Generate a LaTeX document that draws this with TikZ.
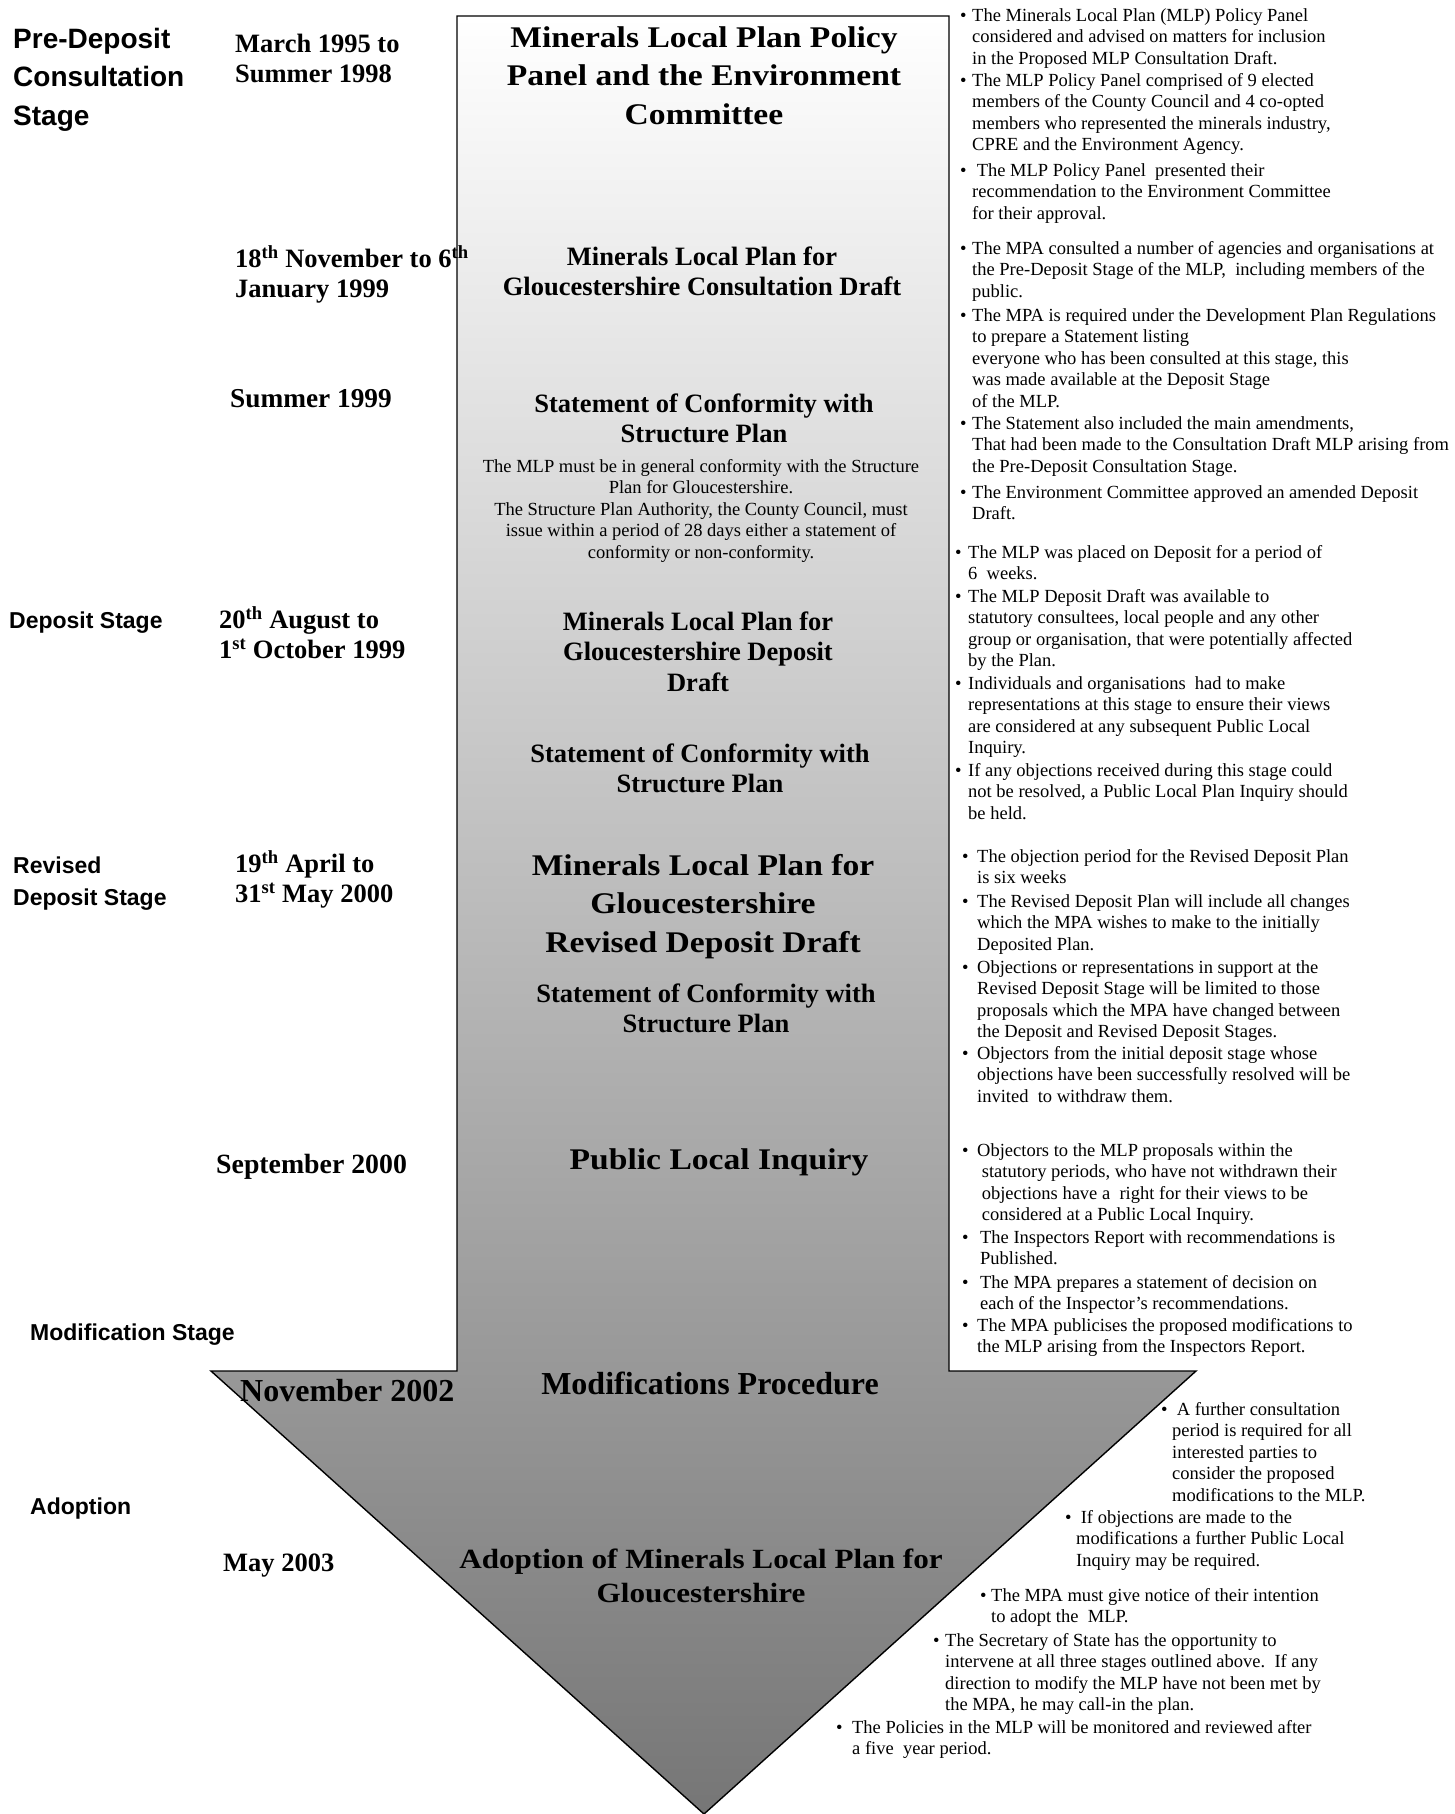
\documentclass[tikz,border=0pt]{standalone}
\usepackage{fontspec}
\setmainfont{Liberation Serif}
\newfontfamily\sansfont{Liberation Sans}
\newfontfamily\palfont[FakeStretch=1.12]{Liberation Serif}
\definecolor{arrowbot}{RGB}{118,118,118}
\newcommand\bitem[2]{\makebox[#1][l]{\textbullet}\begin{tabular}[t]{@{}l@{}}#2\end{tabular}}
\newcommand\clines[1]{\begin{tabular}[t]{@{}c@{}}#1\end{tabular}}
\newcommand\llines[1]{\begin{tabular}[t]{@{}l@{}}#1\end{tabular}}
\newcommand\thsup{\textsuperscript{th}}
\tikzset{
 stg/.style={anchor=base west, inner sep=0pt, font=\sansfont\bfseries\fontsize{28bp}{38.5bp}\selectfont},
 stgs/.style={anchor=base west, inner sep=0pt, font=\sansfont\bfseries\fontsize{23bp}{32bp}\selectfont},
 dte/.style={anchor=base west, inner sep=0pt, font=\bfseries\fontsize{26.5bp}{30bp}\selectfont},
 ttl/.style={anchor=base, inner sep=0pt, font=\bfseries\fontsize{26.5bp}{30.5bp}\selectfont},
 big/.style={anchor=base, inner sep=0pt, font=\palfont\bfseries\fontsize{30bp}{38.5bp}\selectfont},
 nte/.style={anchor=base, inner sep=0pt, font=\fontsize{18.5bp}{21.5bp}\selectfont},
 bul/.style={anchor=base west, inner sep=0pt, font=\fontsize{18.5bp}{21.5bp}\selectfont},
 arrowshape/.style={top color=white, bottom color=arrowbot, draw=black, line width=1.4bp, line join=miter}
}
\begin{document}
\begin{tikzpicture}[x=1bp,y=-1bp]
\path[use as bounding box, fill=white] (0,0) rectangle (1455,1814);
% the big arrow
\shadedraw[arrowshape] (457,16) -- (949,16) -- (949,1371) -- (1196,1371) -- (704,1814)
  -- (211,1371) -- (457,1371) -- cycle;

% stage labels
\node[stg] (s1) at (13,48) {\llines{Pre-Deposit\\Consultation\\Stage}};
\node[stgs] (s2) at (9,628) {Deposit Stage};
\node[stgs] (s3) at (13,873) {\llines{Revised\\Deposit Stage}};
\node[stgs] (s4) at (30,1340) {Modification Stage};
\node[stgs] (s5) at (30,1514) {Adoption};

% dates
\node[dte] (d1) at (235,52) {\llines{March 1995 to\\Summer 1998}};
\node[dte] (d2) at (235,267) {\llines{18\thsup{} November to 6\thsup\\January 1999}};
\node[dte, font=\bfseries\fontsize{27.3bp}{30bp}\selectfont] (d3) at (230,407) {Summer 1999};
\node[dte] (d4) at (219,628) {\llines{20\thsup{} August to\\1\textsuperscript{st} October 1999}};
\node[dte] (d5) at (235,872) {\llines{19\thsup{} April to\\31\textsuperscript{st} May 2000}};
\node[dte, font=\bfseries\fontsize{27.8bp}{30bp}\selectfont] (d6) at (216,1173) {September 2000};
\node[dte, font=\bfseries\fontsize{32bp}{36bp}\selectfont] (d7) at (240,1401) {November 2002};
\node[dte] (d8) at (223,1571) {May 2003};

% centre titles
\node[big] (t1) at (704,47) {\clines{Minerals Local Plan Policy\\Panel and the Environment\\Committee}};
\node[ttl] (t2) at (702,265) {\clines{Minerals Local Plan for\\Gloucestershire Consultation Draft}};
\node[ttl] (t3) at (704,412) {\clines{Statement of Conformity with\\Structure Plan}};
\node[nte] (n3) at (701,472) {\clines{The MLP must be in general conformity with the Structure\\Plan for Gloucestershire.\\The Structure Plan Authority, the County Council, must\\issue within a period of 28 days either a statement of\\conformity or non-conformity.}};
\node[ttl] (t4) at (698,630) {\clines{Minerals Local Plan for\\Gloucestershire Deposit\\Draft}};
\node[ttl] (t5) at (700,762) {\clines{Statement of Conformity with\\Structure Plan}};
\node[big] (t6) at (703,875) {\clines{Minerals Local Plan for\\Gloucestershire\\Revised Deposit Draft}};
\node[ttl] (t7) at (706,1002) {\clines{Statement of Conformity with\\Structure Plan}};
\node[big] (t8) at (719,1169) {Public Local Inquiry};
\node[ttl, font=\bfseries\fontsize{32bp}{36bp}\selectfont] (t9) at (710,1394) {Modifications Procedure};
\node[big, font=\palfont\bfseries\fontsize{27.8bp}{34.5bp}\selectfont] (t10) at (701,1568) {\clines{Adoption of Minerals Local Plan for\\Gloucestershire}};

% bullet notes
\node[bul] (b1) at (960,21) {\bitem{12bp}{The Minerals Local Plan (MLP) Policy Panel\\considered and advised on matters for inclusion\\in the Proposed MLP Consultation Draft.}};
\node[bul] (b2) at (960,86) {\bitem{12bp}{The MLP Policy Panel comprised of 9 elected\\members of the County Council and 4 co-opted\\members who represented the minerals industry,\\CPRE and the Environment Agency.}};
\node[bul] (b3) at (960,176) {\bitem{12bp}{\ The MLP Policy Panel\ \ presented their\\recommendation to the Environment Committee\\for their approval.}};
\node[bul] (b4) at (960,254) {\bitem{12bp}{The MPA consulted a number of agencies and organisations at\\the Pre-Deposit Stage of the MLP,\ \ including members of the\\public.}};
\node[bul] (b5) at (960,321) {\bitem{12bp}{The MPA is required under the Development Plan Regulations\\to prepare a Statement listing\\everyone who has been consulted at this stage, this\\was made available at the Deposit Stage\\of the MLP.}};
\node[bul] (b6) at (960,429) {\bitem{12bp}{The Statement also included the main amendments,\\That had been made to the Consultation Draft MLP arising from\\the Pre-Deposit Consultation Stage.}};
\node[bul] (b7) at (960,498) {\bitem{12bp}{The Environment Committee approved an amended Deposit\\Draft.}};

\node[bul] (b8) at (955,558) {\bitem{13bp}{The MLP was placed on Deposit for a period of\\6\ \ weeks.}};
\node[bul] (b9) at (955,602) {\bitem{13bp}{The MLP Deposit Draft was available to\\statutory consultees, local people and any other\\group or organisation, that were potentially affected\\by the Plan.}};
\node[bul] (b10) at (955,689) {\bitem{13bp}{Individuals and organisations\ \ had to make\\representations at this stage to ensure their views\\are considered at any subsequent Public Local\\Inquiry.}};
\node[bul] (b11) at (955,776) {\bitem{13bp}{If any objections received during this stage could\\not be resolved, a Public Local Plan Inquiry should\\be held.}};

\node[bul] (b12) at (962,862) {\bitem{15bp}{The objection period for the Revised Deposit Plan\\is six weeks}};
\node[bul] (b13) at (962,907) {\bitem{15bp}{The Revised Deposit Plan will include all changes\\which the MPA wishes to make to the initially\\Deposited Plan.}};
\node[bul] (b14) at (962,973) {\bitem{15bp}{Objections or representations in support at the\\Revised Deposit Stage will be limited to those\\proposals which the MPA have changed between\\the Deposit and Revised Deposit Stages.}};
\node[bul] (b15) at (962,1059) {\bitem{15bp}{Objectors from the initial deposit stage whose\\objections have been successfully resolved will be\\invited\ \ to withdraw them.}};

\node[bul] (b16) at (962,1156) {\bitem{15bp}{Objectors to the MLP proposals within the\\\ statutory periods, who have not withdrawn their\\\ objections have a\ \ right for their views to be\\\ considered at a Public Local Inquiry.}};
\node[bul] (b17) at (962,1243) {\bitem{18bp}{The Inspectors Report with recommendations is\\Published.}};
\node[bul] (b18) at (962,1288) {\bitem{18bp}{The MPA prepares a statement of decision on\\each of the Inspector’s recommendations.}};
\node[bul] (b19) at (962,1331) {\bitem{15bp}{The MPA publicises the proposed modifications to\\the MLP arising from the Inspectors Report.}};

\node[bul] (b20) at (1161,1415) {\bitem{11bp}{\ A further consultation\\period is required for all\\interested parties to\\consider the proposed\\modifications to the MLP.}};
\node[bul] (b21) at (1065,1523) {\bitem{11bp}{\ If objections are made to the\\modifications a further Public Local\\Inquiry may be required.}};
\node[bul] (b22) at (980,1601) {\bitem{11bp}{The MPA must give notice of their intention\\to adopt the\ \ MLP.}};
\node[bul] (b23) at (933,1646) {\bitem{12bp}{The Secretary of State has the opportunity to\\intervene at all three stages outlined above.\ \ If any\\direction to modify the MLP have not been met by\\the MPA, he may call-in the plan.}};
\node[bul] (b24) at (836,1733) {\bitem{16bp}{The Policies in the MLP will be monitored and reviewed after\\a five\ \ year period.}};
\end{tikzpicture}
\end{document}
